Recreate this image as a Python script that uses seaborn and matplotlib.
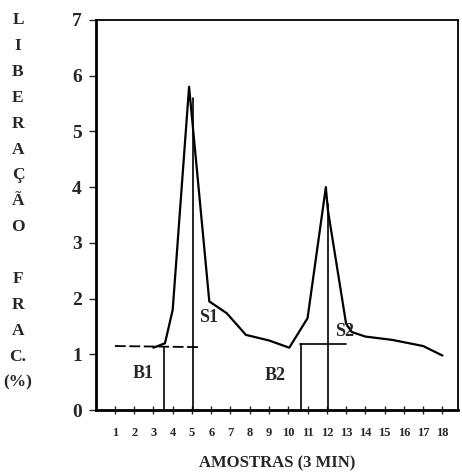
import matplotlib
matplotlib.use("Agg")
import matplotlib.pyplot as plt
import seaborn as sns
import pandas as pd

# ---- data ----
curve_x = [3.0, 3.6, 4.0, 4.85, 5.9, 6.8, 7.8, 9.0, 10.05, 11.0, 11.95, 12.05, 13.0, 13.3, 14.0, 15.4, 17.0, 18.0]
curve_y = [1.12, 1.2, 1.8, 5.8, 1.95, 1.74, 1.35, 1.25, 1.12, 1.65, 4.0, 3.6, 1.55, 1.4, 1.32, 1.26, 1.15, 0.98]
baseline1_x = [1.0, 5.5]
baseline1_y = [1.15, 1.13]
baseline2_x = [10.6, 13.0]
baseline2_y = [1.18, 1.18]
vlines_x = [3.55, 5.05, 10.65, 12.05]
vlines_top = [1.13, 5.6, 1.18, 3.7]
annot_text = ["B1", "S1", "B2", "S2"]
annot_x = [2.45, 5.85, 9.3, 12.9]
annot_y = [0.66, 1.67, 0.63, 1.41]
xtick_vals = list(range(1, 19))
xtick_labels = [str(v) for v in xtick_vals]
ytick_vals = list(range(0, 8))
ylabel_letters = ["L", "I", "B", "E", "R", "A", "Ç", "Ã", "O", "", "F", "R", "A", "C.", "(%)"]
xlabel = "AMOSTRAS (3 MIN)"

sns.set_style("white")
plt.rcParams["font.family"] = ["Liberation Serif", "DejaVu Serif"]
plt.rcParams["font.weight"] = "bold"

fig = plt.figure(figsize=(4.62, 4.72), dpi=100)
ax = fig.add_axes([0.207, 0.131, 0.784, 0.827])

df = pd.DataFrame({"x": curve_x, "y": curve_y})
sns.lineplot(data=df, x="x", y="y", sort=False, estimator=None, color="black", lw=1.6, ax=ax)

ax.plot(baseline1_x, baseline1_y, color="black", lw=1.3, ls=(0, (6, 2)))
ax.plot(baseline2_x, baseline2_y, color="black", lw=1.2)
for xv, top in zip(vlines_x, vlines_top):
    ax.plot([xv, xv], [0, top], color="black", lw=1.2)

for t, xx, yy in zip(annot_text, annot_x, annot_y):
    ax.text(xx, yy, t, ha="center", va="center", fontsize=13, fontweight="bold")

ax.set_xlim(0, 18.8)
ax.set_ylim(0, 7)
ax.set_xticks(xtick_vals)
ax.set_xticklabels(xtick_labels, fontsize=9, fontweight="bold")
ax.set_yticks(ytick_vals)
ax.set_yticklabels([str(v) for v in ytick_vals], fontsize=14, fontweight="bold")
ax.tick_params(axis="x", direction="inout", length=6, width=1, pad=9, bottom=True)
ax.tick_params(axis="y", direction="out", length=5, width=1, pad=5, left=True)
ax.set_xlabel(xlabel, fontsize=12, fontweight="bold", labelpad=12)
ax.set_ylabel("")

for side in ["left", "bottom"]:
    ax.spines[side].set_linewidth(2)
for side in ["top", "right"]:
    ax.spines[side].set_linewidth(1.3)
for s in ax.spines.values():
    s.set_color("black")

# stacked vertical y-label
fig_h = 472
for i, letter in enumerate(ylabel_letters):
    ypix = 20 + i * 25.9
    fig.text(18 / 462, 1 - ypix / fig_h, letter, ha="center", va="center",
             fontsize=12.5, fontweight="bold")

fig.savefig("out.png", dpi=100)
